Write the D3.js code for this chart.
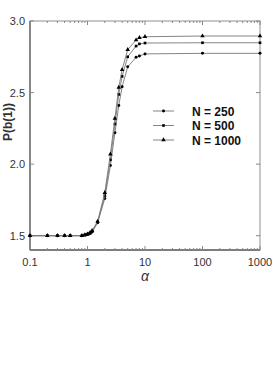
<!DOCTYPE html>
<html>
<head>
<meta charset="utf-8">
<script src="https://cdn.jsdelivr.net/npm/d3@7"></script>
<style>
  body { margin: 0; background: #fff; }
  text { font-family: Arial, "Liberation Sans", sans-serif; }
</style>
</head>
<body>
<svg id="viz"></svg>
<script>
/* data */
var alphas = [0.1, 0.2, 0.3, 0.4, 0.5, 0.8, 0.9, 1, 1.1, 1.2, 1.5, 2, 2.5, 3, 3.5, 4, 5, 7, 8, 10, 100, 1000];
var n250  = [1.5, 1.5, 1.5, 1.5, 1.5, 1.5, 1.505, 1.51, 1.515, 1.525, 1.59, 1.76, 1.99, 2.22, 2.41, 2.54, 2.68, 2.746, 2.755, 2.77, 2.774, 2.774];
var n500  = [1.5, 1.5, 1.5, 1.5, 1.5, 1.5, 1.505, 1.51, 1.518, 1.53, 1.595, 1.78, 2.03, 2.28, 2.487, 2.613, 2.75, 2.825, 2.84, 2.846, 2.848, 2.848];
var n1000 = [1.5, 1.5, 1.5, 1.5, 1.5, 1.5, 1.505, 1.51, 1.52, 1.535, 1.6, 1.8, 2.07, 2.32, 2.536, 2.66, 2.80, 2.867, 2.883, 2.89, 2.895, 2.895];
var seriesNames = ["N = 250", "N = 500", "N = 1000"];
var seriesShapes = [d3.symbolCircle, d3.symbolSquare, d3.symbolTriangle];
var xTicks = [0.1, 1, 10, 100, 1000];
var yTicks = [1.5, 2.0, 2.5, 3.0];

var margin = { top: 21, right: 13, bottom: 142, left: 30 },
	width = 273 - margin.left - margin.right,
	height = 392 - margin.top - margin.bottom;

var svg = d3.select('#viz')
	.attr('width', 273)
	.attr('height', 392);
var g = svg.append('g')
	.attr('transform', 'translate(' + margin.left + ',' + margin.top + ')');

var x = d3.scaleLog()
	.domain([0.1, 1000])
	.range([0, width]);

var y = d3.scaleLinear()
	.domain([1.4, 3.0])
	.range([height, 0]);

// minor ticks for log axis
var minorX = [];
[0.1, 1, 10, 100].forEach(function(d){
	for (var k = 2; k <= 9; k++) minorX.push(d * k);
});

var axisColor = '#888';
var labelColor = '#333';

// frame
g.append('rect')
	.attr('width', width)
	.attr('height', height)
	.attr('fill', 'none')
	.attr('stroke', '#aaa')
	.attr('stroke-width', 1.3);
g.append('line')
	.attr('x1', 0).attr('x2', 0).attr('y1', 0).attr('y2', height)
	.attr('stroke', '#666').attr('stroke-width', 1.3);
g.append('line')
	.attr('x1', 0).attr('x2', width).attr('y1', height).attr('y2', height)
	.attr('stroke', '#666').attr('stroke-width', 1.3);

// ticks (inside)
var ticks = g.append('g').attr('stroke', axisColor).attr('stroke-width', 1);
xTicks.forEach(function(d){
	ticks.append('line').attr('x1', x(d)).attr('x2', x(d)).attr('y1', height).attr('y2', height - 4);
	ticks.append('line').attr('x1', x(d)).attr('x2', x(d)).attr('y1', 0).attr('y2', 4);
});
minorX.forEach(function(d){
	ticks.append('line').attr('x1', x(d)).attr('x2', x(d)).attr('y1', height).attr('y2', height - 2);
	ticks.append('line').attr('x1', x(d)).attr('x2', x(d)).attr('y1', 0).attr('y2', 2);
});
yTicks.forEach(function(d){
	ticks.append('line').attr('x1', 0).attr('x2', 4).attr('y1', y(d)).attr('y2', y(d));
	ticks.append('line').attr('x1', width).attr('x2', width - 4).attr('y1', y(d)).attr('y2', y(d));
});

// tick labels
g.selectAll('.xlab')
	.data(xTicks)
	.enter().append('text')
	.attr('class', 'xlab')
	.attr('x', function(d){ return x(d); })
	.attr('y', height + 16)
	.attr('text-anchor', 'middle')
	.attr('font-size', 11)
	.attr('fill', labelColor)
	.text(function(d){ return d; });

g.selectAll('.ylab')
	.data(yTicks)
	.enter().append('text')
	.attr('class', 'ylab')
	.attr('x', -5)
	.attr('y', function(d){ return y(d) + 4; })
	.attr('text-anchor', 'end')
	.attr('font-size', 11)
	.attr('fill', labelColor)
	.text(function(d){ return d3.format('.1f')(d); });

// axis titles
svg.append('text')
	.attr('transform', 'translate(12,122) rotate(-90)')
	.attr('text-anchor', 'middle')
	.attr('font-size', 12)
	.attr('font-weight', 'bold')
	.attr('fill', labelColor)
	.text('P(b(1))');

svg.append('text')
	.attr('x', margin.left + x(10))
	.attr('y', 281)
	.attr('text-anchor', 'middle')
	.attr('font-size', 14)
	.attr('font-style', 'italic')
	.attr('font-family', '"Liberation Serif", "DejaVu Serif", serif')
	.attr('fill', labelColor)
	.text('α');

// series
var allSeries = [n250, n500, n1000];
var line = d3.line()
	.x(function(d, i){ return x(alphas[i]); })
	.y(function(d){ return y(d); });

allSeries.forEach(function(vals, s){
	g.append('path')
		.attr('d', line(vals))
		.attr('fill', 'none')
		.attr('stroke', '#777')
		.attr('stroke-width', 0.9);
	g.selectAll('.pt' + s)
		.data(vals)
		.enter().append('path')
		.attr('class', 'pt' + s)
		.attr('transform', function(d, i){ return 'translate(' + x(alphas[i]) + ',' + y(d) + ')'; })
		.attr('d', d3.symbol().type(seriesShapes[s]).size(s === 2 ? 9 : 7))
		.attr('fill', '#000');
});

// legend
var legend = svg.append('g');
seriesNames.forEach(function(name, s){
	var ly = 111 + s * 14.5;
	legend.append('line')
		.attr('x1', 153).attr('x2', 174).attr('y1', ly).attr('y2', ly)
		.attr('stroke', '#777').attr('stroke-width', 0.9);
	legend.append('path')
		.attr('transform', 'translate(163.5,' + ly + ')')
		.attr('d', d3.symbol().type(seriesShapes[s]).size(s === 2 ? 9 : 7))
		.attr('fill', '#000');
	legend.append('text')
		.attr('x', 192)
		.attr('y', ly + 4.5)
		.attr('font-size', 12)
		.attr('font-weight', 'bold')
		.attr('fill', '#111')
		.text(name);
});
</script>
</body>
</html>
